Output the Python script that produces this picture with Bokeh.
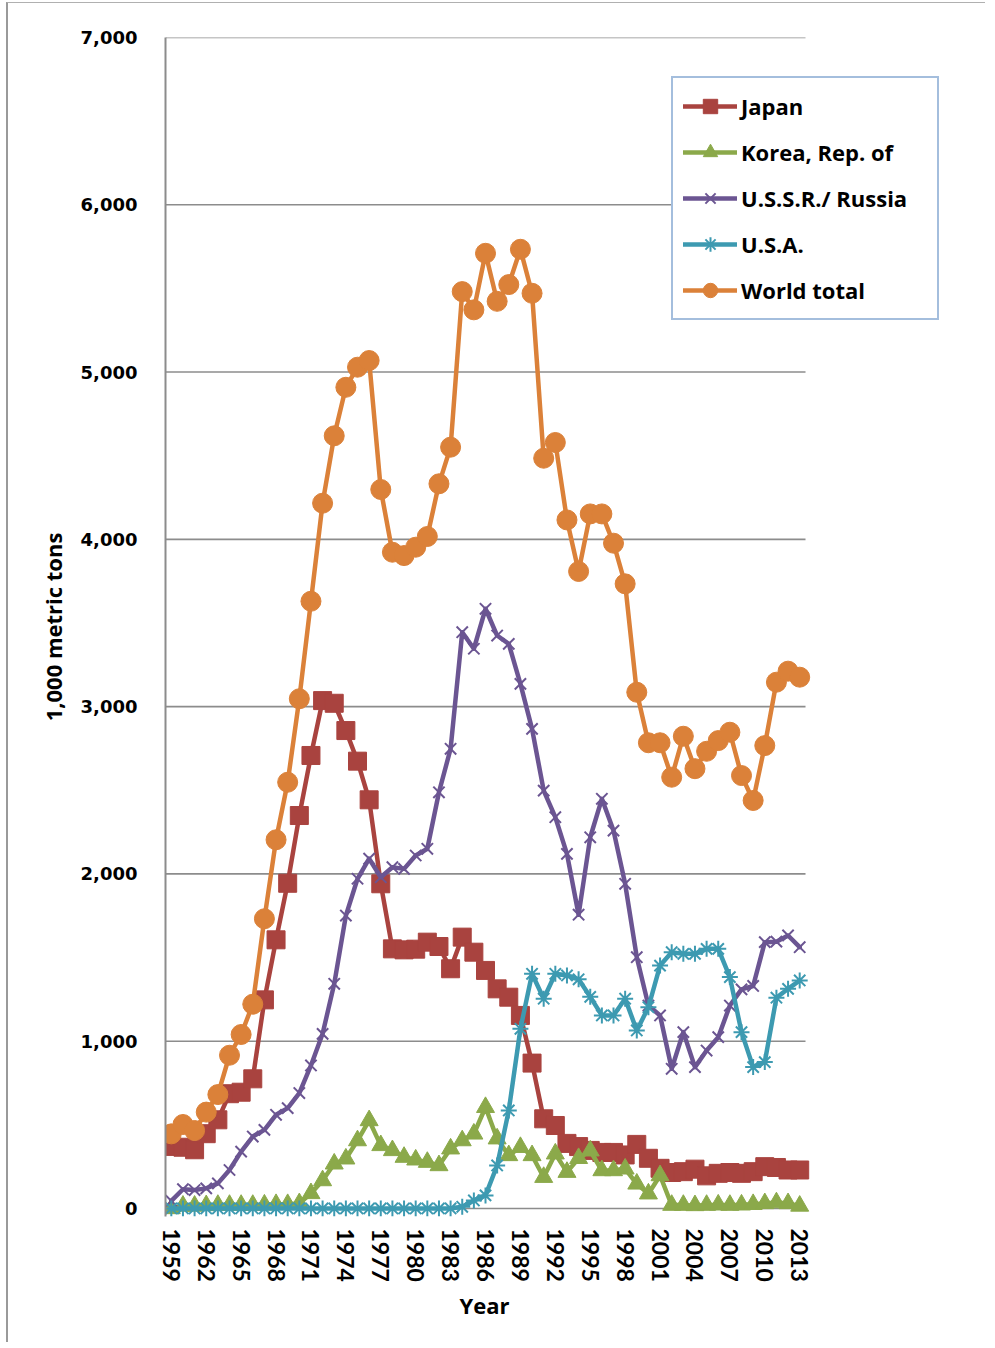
from bokeh.plotting import figure
from bokeh.models import (Range1d, FixedTicker, NumeralTickFormatter, Legend, LegendItem, Title)
from bokeh.embed import file_html
from bokeh.resources import INLINE

years = [1959, 1960, 1961, 1962, 1963, 1964, 1965, 1966, 1967, 1968,
         1969, 1970, 1971, 1972, 1973, 1974, 1975, 1976, 1977, 1978,
         1979, 1980, 1981, 1982, 1983, 1984, 1985, 1986, 1987, 1988,
         1989, 1990, 1991, 1992, 1993, 1994, 1995, 1996, 1997, 1998,
         1999, 2000, 2001, 2002, 2003, 2004, 2005, 2006, 2007, 2008,
         2009, 2010, 2011, 2012, 2013]

japan = [371, 366, 351, 447, 530, 686, 695, 775, 1247, 1606,
         1944, 2349, 2708, 3036, 3020, 2857, 2674, 2443, 1941, 1552,
         1546, 1550, 1592, 1566, 1433, 1622, 1532, 1423, 1313, 1263,
         1154, 869, 536, 496, 389, 370, 347, 335, 335, 320,
         383, 300, 240, 215, 220, 235, 195, 210, 215, 210,
         220, 250, 245, 230, 230]

korea = [0, 15, 15, 18, 20, 20, 20, 20, 22, 25,
         25, 30, 90, 167, 267, 297, 406, 526, 377, 347,
         307, 291, 277, 257, 357, 406, 446, 605, 417, 317,
         366, 317, 187, 327, 217, 300, 345, 227, 227, 237,
         147, 88, 197, 20, 20, 18, 20, 22, 20, 22,
         25, 30, 35, 30, 15]

ussr = [45, 115, 110, 120, 150, 230, 340, 430, 470, 560,
        600, 690, 855, 1044, 1343, 1751, 1971, 2091, 1980, 2040,
        2030, 2110, 2150, 2488, 2748, 3445, 3346, 3585, 3425, 3375,
        3136, 2867, 2498, 2339, 2120, 1756, 2219, 2449, 2259, 1941,
        1502, 1213, 1154, 835, 1054, 845, 944, 1024, 1213, 1310,
        1330, 1592, 1595, 1632, 1562]

usa = [0, 0, 0, 0, 0, 0, 0, 0, 0, 0,
       0, 0, 0, 0, 0, 0, 0, 0, 0, 0,
       0, 0, 0, 0, 0, 10, 48, 78, 257, 586,
       1074, 1403, 1254, 1403, 1393, 1370, 1265, 1154, 1154, 1254,
       1064, 1203, 1452, 1532, 1522, 1522, 1552, 1552, 1383, 1054,
       845, 875, 1260, 1313, 1363]

world = [446, 502, 466, 576, 681, 916, 1040, 1221, 1732, 2204,
         2548, 3047, 3630, 4216, 4619, 4909, 5029, 5069, 4298, 3923,
         3903, 3953, 4017, 4332, 4551, 5481, 5372, 5710, 5423, 5523,
         5734, 5471, 4485, 4579, 4116, 3808, 4152, 4152, 3977, 3734,
         3086, 2784, 2784, 2578, 2823, 2629, 2733, 2797, 2847, 2588,
         2439, 2767, 3146, 3212, 3176]

x_ticks = [1959, 1962, 1965, 1968, 1971, 1974, 1977, 1980, 1983, 1986,
           1989, 1992, 1995, 1998, 2001, 2004, 2007, 2010, 2013]
y_ticks = [0, 1000, 2000, 3000, 4000, 5000, 6000, 7000]

# category span of the plot area (half a year either side)
x_lo, x_hi = 1958.5, 2013.5

series = [
    ("Japan", japan, "#a9433f", "square", 18, 1),
    ("Korea, Rep. of", korea, "#8ba94a", "triangle", 18, 1),
    ("U.S.S.R./ Russia", ussr, "#6b5592", "x", 16, 2),
    ("U.S.A.", usa, "#3d9ab1", "asterisk", 16, 2),
    ("World total", world, "#db8139", "circle", 20, 1),
]

# frame extends to the right to host the legend; data area keeps 11.64 px/year
p = figure(width=979, height=1340, output_backend="svg", toolbar_location=None,
           x_range=Range1d(x_lo, 2025.1), y_range=Range1d(-48, 7000),
           min_border_left=157, min_border_right=47, min_border_top=34,
           min_border_bottom=127,
           styles={"margin-left": "6px", "margin-top": "2px",
                   "border-left": "2px solid #9a9a9a", "border-top": "1px solid #b0b0b0"})
p.outline_line_color = None
p.background_fill_color = "white"
p.xgrid.grid_line_color = None
p.ygrid.grid_line_color = None

# horizontal gridlines limited to the category span
p.segment(x0=[x_lo] * len(y_ticks), x1=[x_hi] * len(y_ticks), y0=y_ticks, y1=y_ticks,
          line_color="#8c8c8c", line_width=1.6)

items = []
for name, vals, col, marker, size, mlw in series:
    r1 = p.line(years, vals, line_color=col, line_width=4.5, line_join="round", line_cap="round")
    r2 = p.scatter(years, vals, marker=marker, size=size, fill_color=col,
                   line_color=col, line_width=mlw)
    items.append(LegendItem(label=name, renderers=[r1, r2]))

# Axes
p.xaxis.ticker = FixedTicker(ticks=x_ticks)
p.yaxis.ticker = FixedTicker(ticks=y_ticks)
p.yaxis.formatter = NumeralTickFormatter(format="0,0")
p.xaxis.major_label_orientation = "vertical"

for ax in (p.xaxis[0], p.yaxis[0]):
    ax.major_tick_line_color = None
    ax.minor_tick_line_color = None
    ax.major_label_text_color = "black"
    ax.major_label_text_font_style = "bold"
    ax.axis_label_text_color = "black"
    ax.axis_label_text_font = "Open Sans"
    ax.axis_label_text_font_style = "bold"

p.xaxis.axis_line_color = None
p.xaxis.major_label_text_font = "Lato"
p.xaxis.major_label_text_font_size = "23px"
p.xaxis.major_label_standoff = 6

p.yaxis.axis_line_color = "#8c8c8c"
p.yaxis.axis_line_width = 2
p.yaxis.major_label_text_font = "DejaVu Sans"
p.yaxis.major_label_text_font_size = "18px"
p.yaxis.major_label_standoff = 22
p.yaxis.axis_label = "1,000 metric tons"
p.yaxis.axis_label_text_font_size = "22px"
p.yaxis.axis_label_standoff = 10

xtitle = Title(text="Year", align="left", offset=294, text_font="Open Sans",
               text_font_style="bold", text_font_size="22px", text_color="black",
               standoff=6)
p.add_layout(xtitle, "below")

legend = Legend(items=items, location=(506, 896))
legend.glyph_width = 54
legend.glyph_height = 36
legend.label_height = 36
legend.spacing = 10
legend.padding = 10
legend.margin = 0
legend.label_standoff = 4
legend.label_width = 186
legend.label_text_font = "Open Sans"
legend.label_text_font_style = "bold"
legend.label_text_font_size = "22px"
legend.label_text_color = "black"
legend.border_line_color = "#4a7ebb"
legend.border_line_width = 2
legend.background_fill_color = "white"
legend.background_fill_alpha = 1
p.add_layout(legend, "center")

open("out.html", "w").write(file_html(p, INLINE))
